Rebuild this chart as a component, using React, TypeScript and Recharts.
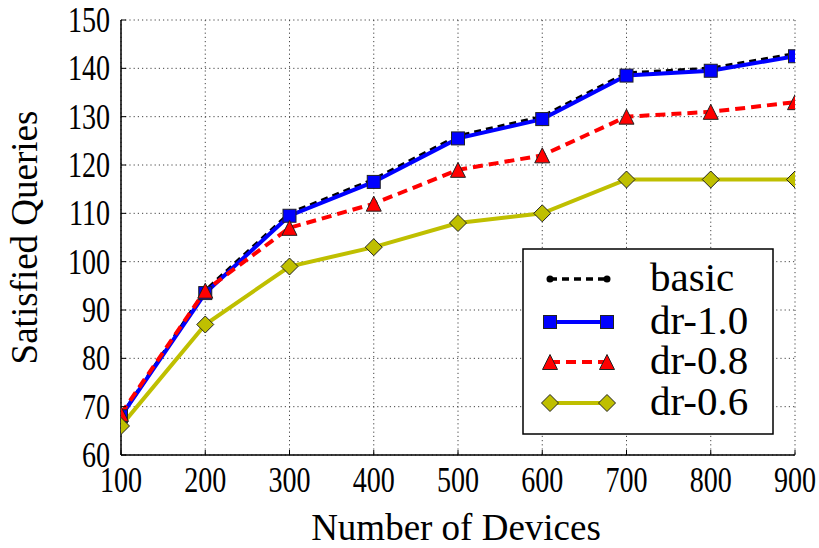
import React from 'react';
import { LineChart, Line, XAxis, YAxis, CartesianGrid, Label } from 'recharts';

// Number of devices on the x axis
const devices = [100, 200, 300, 400, 500, 600, 700, 800, 900];

// Satisfied queries per scheme
const basic = [68, 94, 110, 117, 126, 130, 139, 140, 143];
const dr10 = [68, 93.5, 109.5, 116.5, 125.5, 129.5, 138.5, 139.5, 142.5];
const dr08 = [68.5, 94, 107, 112, 119, 122, 130, 131, 133];
const dr06 = [66, 87, 99, 103, 108, 110, 117, 117, 117];

const xTicks = [100, 200, 300, 400, 500, 600, 700, 800, 900];
const yTicks = [60, 70, 80, 90, 100, 110, 120, 130, 140, 150];

const data = devices.map((d, i) => ({
  devices: d,
  basic: basic[i],
  dr10: dr10[i],
  dr08: dr08[i],
  dr06: dr06[i],
}));

const SERIF = 'Liberation Serif, Times New Roman, DejaVu Serif, serif';
const EDGE = '#222';

type MarkerKind = 'dot' | 'square' | 'triangle' | 'diamond';

function Marker({ kind, cx, cy, fill }: { kind: MarkerKind; cx: number; cy: number; fill: string }) {
  if (kind === 'dot') return <circle cx={cx} cy={cy} r={3.5} fill={fill} />;
  if (kind === 'square')
    return <rect x={cx - 6.5} y={cy - 6.5} width={13} height={13} fill={fill} stroke={EDGE} strokeWidth={1} />;
  if (kind === 'triangle') {
    const h = 7.5;
    return (
      <polygon
        points={`${cx},${cy - h} ${cx - h},${cy + h} ${cx + h},${cy + h}`}
        fill={fill}
        stroke={EDGE}
        strokeWidth={1}
      />
    );
  }
  const d = 8.5;
  return (
    <polygon
      points={`${cx},${cy - d} ${cx + d},${cy} ${cx},${cy + d} ${cx - d},${cy}`}
      fill={fill}
      stroke={EDGE}
      strokeWidth={1}
    />
  );
}

const series = [
  { key: 'basic', name: 'basic', color: '#000000', width: 3.5, dash: '7 5', marker: 'dot' as MarkerKind },
  { key: 'dr10', name: 'dr-1.0', color: '#0000ff', width: 4, dash: undefined, marker: 'square' as MarkerKind },
  { key: 'dr08', name: 'dr-0.8', color: '#ff0000', width: 4, dash: '10 6', marker: 'triangle' as MarkerKind },
  { key: 'dr06', name: 'dr-0.6', color: '#bfbf00', width: 4, dash: undefined, marker: 'diamond' as MarkerKind },
];

const Y_TICK_GAP = 11;
const INWARD = 5;
const textStyle = { fontFamily: SERIF };

function LeftTick(props: any) {
  const { x, y, payload } = props;
  const edge = x + Y_TICK_GAP;
  return (
    <g>
      <text
        transform={`translate(${x},${y}) scale(0.78,1)`}
        textAnchor="end"
        dy="0.33em"
        style={textStyle}
        fontSize={36}
        fill="#000"
      >
        {payload.value}
      </text>
      <line x1={edge} x2={edge + INWARD} y1={y} y2={y} stroke="#000" strokeWidth={1} />
    </g>
  );
}

function BottomTick(props: any) {
  const { x, y, payload } = props;
  return (
    <g>
      <text
        transform={`translate(${x},${y + 37}) scale(0.78,1)`}
        textAnchor="middle"
        style={textStyle}
        fontSize={36}
        fill="#000"
      >
        {payload.value}
      </text>
      <line x1={x} x2={x} y1={y} y2={y - INWARD} stroke="#000" strokeWidth={1} />
    </g>
  );
}

function TopTick(props: any) {
  const { x, y } = props;
  return <line x1={x} x2={x} y1={y} y2={y + INWARD} stroke="#000" strokeWidth={1} />;
}

function RightTick(props: any) {
  const { x, y } = props;
  return <line x1={x - INWARD} x2={x} y1={y} y2={y} stroke="#000" strokeWidth={1} />;
}

function LegendBox() {
  const rows = [31, 74, 114, 155];
  return (
    <svg width={252} height={187} style={{ display: 'block' }}>
      <rect x={1} y={1} width={250} height={185} fill="#fff" stroke="#000" strokeWidth={1.5} />
      {series.map((s, i) => {
        const ry = rows[i];
        return (
          <g key={s.key}>
            <line x1={28} x2={85} y1={ry} y2={ry} stroke={s.color} strokeWidth={s.width} strokeDasharray={s.dash} />
            <Marker kind={s.marker} cx={28} cy={ry} fill={s.color} />
            <Marker kind={s.marker} cx={85} cy={ry} fill={s.color} />
            <text x={128} y={ry + 12} style={textStyle} fontSize={41} fill="#000">
              {s.name}
            </text>
          </g>
        );
      })}
    </svg>
  );
}

export default function App() {
  return (
    <div style={{ position: 'absolute', left: 0, top: 0, width: 819, height: 548, background: '#fff' }}>
      <LineChart width={819} height={548} data={data} margin={{ top: 20, right: 24, left: 0, bottom: 0 }}>
        <CartesianGrid stroke="#444" strokeDasharray="1.2 3" strokeWidth={1} />
        <XAxis
          xAxisId={0}
          dataKey="devices"
          type="number"
          domain={[100, 900]}
          ticks={xTicks}
          interval={0}
          allowDataOverflow
          height={93}
          tickSize={0}
          tickMargin={0}
          tickLine={false}
          axisLine={{ stroke: '#000', strokeWidth: 1.5 }}
          tick={<BottomTick />}
        >
          <Label
            content={(p: any) => {
              const vb = p.viewBox;
              return (
                <text
                  x={vb.x + vb.width / 2 - 2}
                  y={vb.y + 85}
                  textAnchor="middle"
                  style={textStyle}
                  fontSize={37}
                  fill="#000"
                >
                  Number of Devices
                </text>
              );
            }}
          />
        </XAxis>
        <XAxis
          xAxisId="top"
          orientation="top"
          dataKey="devices"
          type="number"
          domain={[100, 900]}
          ticks={xTicks}
          interval={0}
          height={0}
          tickSize={0}
          tickMargin={0}
          tickLine={false}
          axisLine={{ stroke: '#000', strokeWidth: 1.5 }}
          tick={<TopTick />}
        />
        <YAxis
          yAxisId={0}
          type="number"
          domain={[60, 150]}
          ticks={yTicks}
          interval={0}
          allowDataOverflow
          width={121}
          tickSize={0}
          tickMargin={Y_TICK_GAP}
          tickLine={false}
          axisLine={{ stroke: '#000', strokeWidth: 1.5 }}
          tick={<LeftTick />}
        >
          <Label
            content={(p: any) => {
              const vb = p.viewBox;
              const cx = 37;
              const cy = vb.y + vb.height / 2;
              return (
                <text
                  x={cx}
                  y={cy}
                  transform={`rotate(-90, ${cx}, ${cy})`}
                  textAnchor="middle"
                  style={textStyle}
                  fontSize={37}
                  fill="#000"
                >
                  Satisfied Queries
                </text>
              );
            }}
          />
        </YAxis>
        <YAxis
          yAxisId="right"
          orientation="right"
          type="number"
          domain={[60, 150]}
          ticks={yTicks}
          interval={0}
          width={0}
          tickSize={0}
          tickMargin={0}
          tickLine={false}
          axisLine={{ stroke: '#000', strokeWidth: 1.5 }}
          tick={<RightTick />}
        />
        {series.map((s) => (
          <Line
            key={s.key}
            dataKey={s.key}
            name={s.name}
            xAxisId={0}
            yAxisId={0}
            stroke={s.color}
            strokeWidth={s.width}
            strokeDasharray={s.dash}
            isAnimationActive={false}
            dot={(p: any) => <Marker key={`${s.key}-${p.index}`} kind={s.marker} cx={p.cx} cy={p.cy} fill={s.color} />}
            activeDot={false}
          />
        ))}
      </LineChart>
      <div style={{ position: 'absolute', left: 522, top: 248 }}>
        <LegendBox />
      </div>
    </div>
  );
}
